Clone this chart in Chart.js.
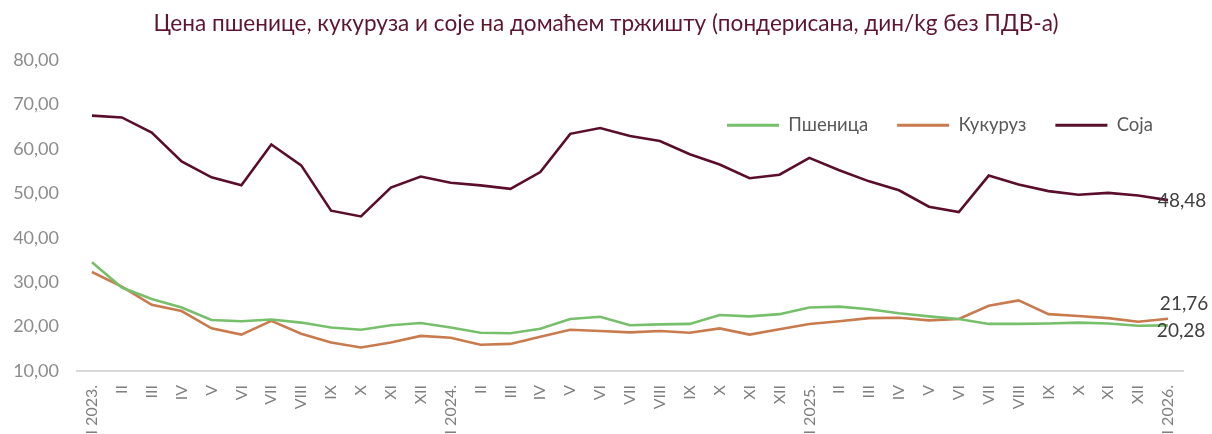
<!DOCTYPE html>
<html>
<head>
<meta charset="utf-8">
<script src="https://cdn.jsdelivr.net/npm/chart.js@4/dist/chart.umd.min.js"></script>
<style>
  html, body { margin: 0; padding: 0; background: #fff; }
  #wrap { width: 1212px; height: 434px; }
</style>
</head>
<body>
<div id="wrap"><canvas id="chart"></canvas></div>
<script>
// months, Jan 2023 - Jan 2026
const months = ['I 2023.', 'II', 'III', 'IV', 'V', 'VI', 'VII', 'VIII', 'IX', 'X', 'XI', 'XII',
  'I 2024.', 'II', 'III', 'IV', 'V', 'VI', 'VII', 'VIII', 'IX', 'X', 'XI', 'XII',
  'I 2025.', 'II', 'III', 'IV', 'V', 'VI', 'VII', 'VIII', 'IX', 'X', 'XI', 'XII',
  'I 2026.'];

// prices, din/kg
const psenica = [34.5, 28.8, 26.2, 24.3, 21.5, 21.2, 21.6, 20.9, 19.8, 19.3, 20.3, 20.8,
  19.8, 18.6, 18.5, 19.5, 21.7, 22.2, 20.3, 20.5, 20.6, 22.6, 22.3, 22.8,
  24.3, 24.5, 23.9, 23.0, 22.3, 21.7, 20.6, 20.6, 20.7, 20.9, 20.7, 20.2,
  20.28];
const kukuruz = [32.3, 29.0, 24.9, 23.5, 19.6, 18.2, 21.3, 18.4, 16.4, 15.3, 16.4, 17.9,
  17.5, 15.9, 16.1, 17.7, 19.3, 19.0, 18.7, 19.0, 18.6, 19.6, 18.2, 19.4,
  20.6, 21.2, 21.9, 22.0, 21.4, 21.7, 24.7, 25.9, 22.8, 22.4, 21.9, 21.1,
  21.76];
const soja = [67.5, 67.1, 63.7, 57.2, 53.6, 51.8, 61.0, 56.3, 46.1, 44.8, 51.3, 53.8,
  52.4, 51.8, 51.0, 54.8, 63.4, 64.7, 62.9, 61.8, 58.8, 56.5, 53.4, 54.2,
  58.0, 55.2, 52.7, 50.7, 47.0, 45.8, 54.0, 52.0, 50.5, 49.7, 50.1, 49.5,
  48.48];

const yTicks = [10, 20, 30, 40, 50, 60, 70, 80];

const FONT = 'Lato, "Open Sans", sans-serif';

function fmt(v) {
  return v.toFixed(2).replace('.', ',');
}

// value labels at the last point of each line
const endLabels = {
  id: 'endLabels',
  afterDatasetsDraw(chart) {
    const ctx = chart.ctx;
    const offsets = [[13, 6], [16, -15], [14, 1]];
    ctx.save();
    ctx.font = '19px ' + FONT;
    ctx.fillStyle = '#404040';
    ctx.textAlign = 'center';
    ctx.textBaseline = 'middle';
    chart.data.datasets.forEach((ds, i) => {
      const meta = chart.getDatasetMeta(i);
      const pt = meta.data[meta.data.length - 1];
      ctx.fillText(fmt(ds.data[ds.data.length - 1]), pt.x + offsets[i][0], pt.y + offsets[i][1]);
    });
    ctx.restore();
  }
};

// legend sits inside the plot (takes no layout space), title centred on the canvas
const placeBoxes = {
  id: 'placeBoxes',
  afterInit(chart) {
    const lg = chart.legend;
    const fit = lg.fit.bind(lg);
    lg.fit = function () { fit(); this.height = 0; };
  },
  afterUpdate(chart) {
    const lg = chart.legend;
    lg.left = 698;
    lg.right = 1212;
    lg.top = 87;
    lg.bottom = 150;
    lg.width = lg.right - lg.left;
    lg.height = lg.bottom - lg.top;
    lg.adjustHitBoxes();
    chart.titleBlock.left = 0;
    chart.titleBlock.right = chart.width;
  }
};

new Chart(document.getElementById('chart'), {
  type: 'line',
  data: {
    labels: months,
    datasets: [
      { label: 'Пшеница', data: psenica, borderColor: '#77c06b', backgroundColor: '#77c06b' },
      { label: 'Кукуруз', data: kukuruz, borderColor: '#c97b4e', backgroundColor: '#c97b4e' },
      { label: 'Соја', data: soja, borderColor: '#5a0e2c', backgroundColor: '#5a0e2c' }
    ]
  },
  options: {
    responsive: true,
    maintainAspectRatio: false,
    animation: false,
    layout: { padding: { top: 0, right: 29, bottom: 0, left: 0 } },
    elements: {
      line: { borderWidth: 2.6, tension: 0 },
      point: { radius: 0, borderWidth: 3 }
    },
    plugins: {
      title: {
        display: true,
        text: 'Цена пшенице, кукуруза и соје на домаћем тржишту (пондерисана, дин/kg без ПДВ-а)',
        color: '#5e1530',
        font: { family: FONT, size: 22.6, weight: 'normal' },
        padding: { top: 10, bottom: 23 }
      },
      legend: {
        display: true,
        position: 'top',
        align: 'start',
        labels: {
          usePointStyle: true,
          pointStyle: 'line',
          pointStyleWidth: 52,
          padding: 29,
          color: '#595959',
          font: { family: FONT, size: 18.5 }
        }
      },
      tooltip: { enabled: false }
    },
    scales: {
      x: {
        offset: true,
        grid: { display: false },
        border: { display: true, color: '#d9d9d9', width: 2 },
        ticks: {
          autoSkip: false,
          maxRotation: 90,
          minRotation: 90,
          color: '#7f7f7f',
          padding: 6,
          font: { family: FONT, size: 16 }
        },
        afterFit(scale) { scale.height = 63; }
      },
      y: {
        min: 10,
        max: 80,
        grid: { display: false },
        border: { display: false },
        afterBuildTicks(scale) { scale.ticks = yTicks.map(v => ({ value: v })); },
        ticks: {
          color: '#8c8c8c',
          padding: 10,
          font: { family: FONT, size: 18 },
          callback: v => fmt(v)
        },
        afterFit(scale) { scale.width = 77; }
      }
    }
  },
  plugins: [endLabels, placeBoxes]
});
</script>
</body>
</html>
